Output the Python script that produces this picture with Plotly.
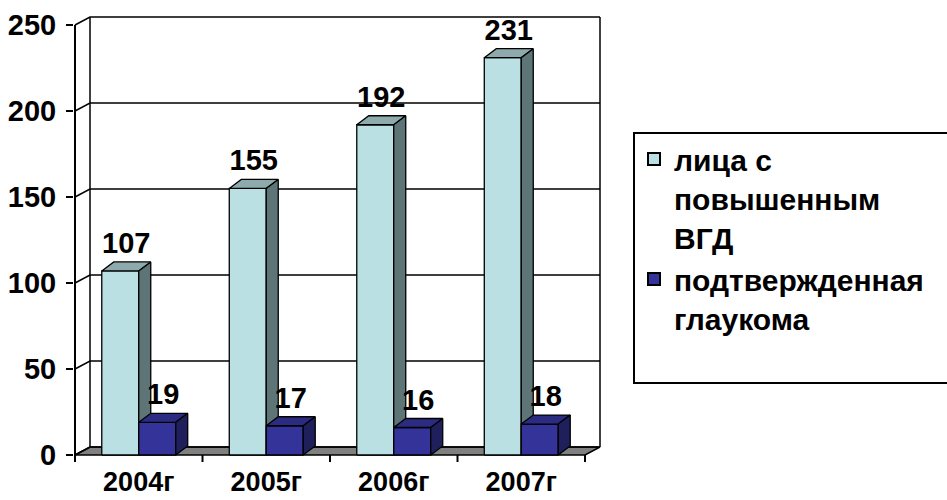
import plotly.graph_objects as go

# ---------------- data ----------------
categories = ['2004г', '2005г', '2006г', '2007г']
series_names = ['лица с<br>повышенным<br>ВГД', 'подтвержденная<br>глаукома<br> ']
elevated_iop = [107, 155, 192, 231]
confirmed_glaucoma = [19, 17, 16, 18]
y_ticks = [0, 50, 100, 150, 200, 250]

# ---------------- styling / geometry ----------------
W, H = 947, 500
PX_FRONT_LEFT = 75      # front y-axis position (px)
PX_CAT = 127.5          # px per category
PX_ZERO = 455           # px of value 0 on the front plane
PX_PER_UNIT = 1.72      # px per value unit
PLOT_LEFT = 74
PLOT_TOP = 14
PLOT_BOTTOM = 462
PLOT_RIGHT = 602
WALL_DX_PX, WALL_DY_PX = 15, 8
BAR_DX_PX, BAR_DY_PX = 12, 9
BAR_W = 0.29
LEGEND_BOX_PX = dict(x0=634, x1=975, y0=133, y1=383)
FONT = 'Liberation Sans, Arial, sans-serif'

LIGHT = dict(front='#BBE0E3', top='#8DAAAD', side='#5E7577')
DARK = dict(front='#333399', top='#2B2B82', side='#1F1F5C')
FLOOR = '#808080'
EDGE = 'black'

n = len(categories)
x_front = -0.5
x_lo = x_front - (PX_FRONT_LEFT - PLOT_LEFT) / PX_CAT
x_hi = x_front + (PLOT_RIGHT - PX_FRONT_LEFT) / PX_CAT
y_lo = -(PLOT_BOTTOM - PX_ZERO) / PX_PER_UNIT
y_hi = (PX_ZERO - PLOT_TOP) / PX_PER_UNIT
wdx, wdy = WALL_DX_PX / PX_CAT, WALL_DY_PX / PX_PER_UNIT
bdx, bdy = BAR_DX_PX / PX_CAT, BAR_DY_PX / PX_PER_UNIT
x_back_right = n - 0.5
y_top = y_ticks[-1]

def px_to_paper_x(px):
    return (px - PLOT_LEFT) / (PLOT_RIGHT - PLOT_LEFT)

def px_to_paper_y(px):
    return (PLOT_BOTTOM - px) / (PLOT_BOTTOM - PLOT_TOP)

fig = go.Figure()

def line_trace(xs, ys, width=1.5):
    return go.Scatter(x=xs, y=ys, mode='lines', line=dict(color=EDGE, width=width),
                      hoverinfo='skip', showlegend=False)

# floor
fig.add_trace(go.Scatter(
    x=[x_front, x_back_right, x_back_right + wdx, x_front + wdx, x_front],
    y=[0, 0, wdy, wdy, 0], fill='toself', fillcolor=FLOOR, mode='lines',
    line=dict(color=EDGE, width=1.5), hoverinfo='skip', showlegend=False))

# gridlines on side wall + back wall
gx, gy = [], []
for v in y_ticks:
    gx += [x_front, x_front + wdx, x_back_right + wdx, None]
    gy += [v, v + wdy, v + wdy, None]
# back wall vertical edges
for xe in (x_front + wdx, x_back_right + wdx):
    gx += [xe, xe, None]
    gy += [wdy, y_top + wdy, None]
fig.add_trace(line_trace(gx, gy, 1.5))

# front y-axis line and category boundary ticks
ax_x = [x_front, x_front, None]
ax_y = [y_lo, y_top, None]
for b in range(n + 1):
    ax_x += [b - 0.5, b - 0.5, None]
    ax_y += [0, y_lo, None]
fig.add_trace(line_trace(ax_x, ax_y, 2))

# 3D bars
def faces(values, left_offsets):
    fr_x, fr_y, tp_x, tp_y, sd_x, sd_y = [], [], [], [], [], []
    for i, v in enumerate(values):
        x0 = i + left_offsets
        x1 = x0 + BAR_W
        fr_x += [x0, x1, x1, x0, x0, None]
        fr_y += [0, 0, v, v, 0, None]
        tp_x += [x0, x1, x1 + bdx, x0 + bdx, x0, None]
        tp_y += [v, v, v + bdy, v + bdy, v, None]
        sd_x += [x1, x1 + bdx, x1 + bdx, x1, x1, None]
        sd_y += [0, bdy, v + bdy, v, 0, None]
    return (fr_x, fr_y), (tp_x, tp_y), (sd_x, sd_y)

for values, offs, pal in ((elevated_iop, -BAR_W, LIGHT), (confirmed_glaucoma, 0.0, DARK)):
    fr, tp, sd = faces(values, offs)
    for (xs, ys), col in ((fr, pal['front']), (tp, pal['top']), (sd, pal['side'])):
        fig.add_trace(go.Scatter(x=xs, y=ys, fill='toself', fillcolor=col, mode='lines',
                                 line=dict(color=EDGE, width=1.3), hoverinfo='skip',
                                 showlegend=False))

# value labels
for values, offs in ((elevated_iop, -BAR_W), (confirmed_glaucoma, 0.0)):
    fig.add_trace(go.Scatter(
        x=[i + offs + BAR_W / 2 + bdx / 2 for i in range(n)],
        y=[v + bdy + 1 for v in values],
        mode='text', text=[str(v) for v in values], textposition='top center',
        textfont=dict(family=FONT, size=29, color='black', weight='bold'),
        hoverinfo='skip', showlegend=False, cliponaxis=False))

# legend entries
for name, pal in zip(series_names, (LIGHT, DARK)):
    fig.add_trace(go.Scatter(x=[None], y=[None], mode='markers', name=name,
                             marker=dict(symbol='square', size=16, color=pal['front'],
                                         line=dict(color=EDGE, width=1.3))))

# legend frame (runs past the right edge of the picture, as in the original)
fig.add_shape(type='rect', xref='paper', yref='paper', layer='below',
              x0=px_to_paper_x(LEGEND_BOX_PX['x0']), x1=px_to_paper_x(LEGEND_BOX_PX['x1']),
              y0=px_to_paper_y(LEGEND_BOX_PX['y1']), y1=px_to_paper_y(LEGEND_BOX_PX['y0']),
              line=dict(color=EDGE, width=2), fillcolor='white')

fig.update_layout(
    width=W, height=H,
    margin=dict(l=PLOT_LEFT, r=W - PLOT_RIGHT, t=PLOT_TOP, b=H - PLOT_BOTTOM, autoexpand=False),
    paper_bgcolor='white', plot_bgcolor='white',
    font=dict(family=FONT, color='black'),
    xaxis=dict(range=[x_lo, x_hi], tickvals=list(range(n)), ticktext=categories,
               ticks='', showline=False, showgrid=False, zeroline=False,
               tickfont=dict(size=27, weight='bold'), ticklabelstandoff=1),
    yaxis=dict(range=[y_lo, y_hi], tickvals=y_ticks, ticks='outside', ticklen=7,
               tickwidth=1.5, tickcolor=EDGE, showline=False, showgrid=False,
               zeroline=False, tickfont=dict(size=29, weight='bold'), ticklabelstandoff=4),
    legend=dict(xref='container', yref='container', x=634 / W, y=1 - 133 / H,
                xanchor='left', yanchor='top', bgcolor='rgba(0,0,0,0)',
                borderwidth=0, valign='top', font=dict(size=30, weight='bold'),
                itemsizing='constant', tracegroupgap=0),
    showlegend=True,
)

fig.write_html('out.html')
